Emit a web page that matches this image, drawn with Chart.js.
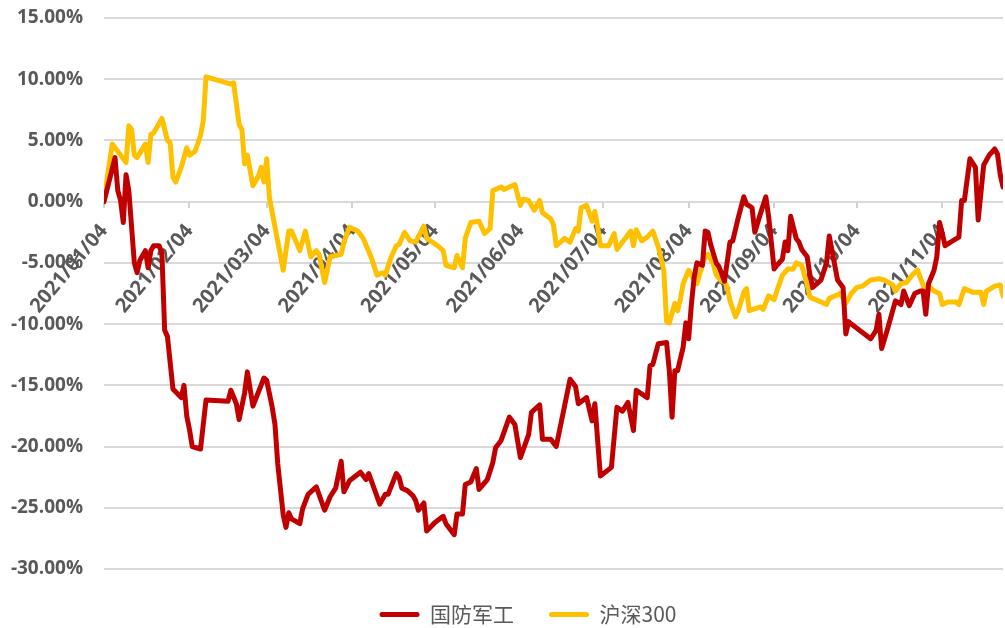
<!DOCTYPE html>
<html>
<head>
<meta charset="utf-8">
<script src="https://cdn.jsdelivr.net/npm/chart.js@4.4.0/dist/chart.umd.min.js"></script>
<style>
html,body{margin:0;padding:0;background:#fff;}
#wrap{position:relative;width:1005px;height:628px;}
</style>
</head>
<body>
<div id="wrap"><canvas id="c"></canvas></div>
<script>
const seriesNames = ['国防军工', '沪深300'];
const tickLabels = ['2021/01/04','2021/02/04','2021/03/04','2021/04/04','2021/05/04','2021/06/04','2021/07/04','2021/08/04','2021/09/04','2021/10/04','2021/11/04'];

// 国防军工
const jgDates = [
'2021-01-04','2021-01-08','2021-01-09','2021-01-10','2021-01-11','2021-01-12','2021-01-13','2021-01-15','2021-01-16','2021-01-17','2021-01-19','2021-01-20','2021-01-21','2021-01-22','2021-01-24','2021-01-25','2021-01-26','2021-01-27','2021-01-29',
'2021-02-01','2021-02-02','2021-02-03','2021-02-04','2021-02-05','2021-02-08','2021-02-10','2021-02-18','2021-02-19','2021-02-21','2021-02-22','2021-02-24','2021-02-25','2021-02-27',
'2021-03-03','2021-03-04','2021-03-06','2021-03-07','2021-03-08','2021-03-10','2021-03-11','2021-03-12','2021-03-13','2021-03-16','2021-03-17','2021-03-19','2021-03-22','2021-03-25','2021-03-27','2021-03-29','2021-03-31',
'2021-04-01','2021-04-03','2021-04-07','2021-04-09','2021-04-10','2021-04-14','2021-04-16','2021-04-17','2021-04-20','2021-04-21','2021-04-22','2021-04-24','2021-04-26','2021-04-27','2021-04-28','2021-04-30',
'2021-05-01','2021-05-04','2021-05-07','2021-05-08','2021-05-11','2021-05-12','2021-05-14','2021-05-15','2021-05-17','2021-05-19','2021-05-20','2021-05-23','2021-05-25','2021-05-26','2021-05-28','2021-05-31',
'2021-06-02','2021-06-04','2021-06-07','2021-06-08','2021-06-11','2021-06-12','2021-06-15','2021-06-17','2021-06-22','2021-06-24','2021-06-25','2021-06-28','2021-06-30',
'2021-07-01','2021-07-03','2021-07-07','2021-07-09','2021-07-11','2021-07-13','2021-07-15','2021-07-16','2021-07-20','2021-07-21','2021-07-22','2021-07-24','2021-07-27','2021-07-28','2021-07-29','2021-07-30','2021-07-31',
'2021-08-02','2021-08-03','2021-08-04','2021-08-05','2021-08-06','2021-08-07','2021-08-09','2021-08-10','2021-08-11','2021-08-12','2021-08-14','2021-08-15','2021-08-17','2021-08-19','2021-08-20','2021-08-22','2021-08-24','2021-08-25','2021-08-27','2021-08-28','2021-08-30',
'2021-09-01','2021-09-02','2021-09-04','2021-09-05','2021-09-07','2021-09-08','2021-09-09','2021-09-10','2021-09-12','2021-09-13','2021-09-14','2021-09-16','2021-09-17','2021-09-18','2021-09-21','2021-09-23','2021-09-24','2021-09-25','2021-09-27','2021-09-29','2021-09-30',
'2021-10-01','2021-10-02','2021-10-09','2021-10-11','2021-10-12','2021-10-13','2021-10-15','2021-10-17','2021-10-18','2021-10-20','2021-10-21','2021-10-23','2021-10-25','2021-10-27','2021-10-28','2021-10-29','2021-10-30',
'2021-11-01','2021-11-02','2021-11-03','2021-11-04','2021-11-05','2021-11-07','2021-11-10','2021-11-11','2021-11-12','2021-11-14','2021-11-16','2021-11-17','2021-11-19','2021-11-21','2021-11-23','2021-11-24','2021-11-25','2021-11-26'
];
const jgValues = [
0,3.6,0.9,0.1,-1.7,2.2,0.9,-5.0,-5.8,-4.8,-4.0,-5.4,-4.0,-3.6,-3.6,-4.2,-10.5,-11.0,-15.3,
-16.0,-15.0,-17.5,-18.6,-20.0,-20.2,-16.2,-16.3,-15.4,-16.5,-17.8,-15.6,-13.9,-16.7,
-14.4,-14.6,-16.8,-18.2,-21.4,-25.6,-26.6,-25.4,-25.9,-26.3,-25.1,-23.9,-23.3,-25.2,-24.1,-23.4,-21.2,
-23.7,-22.8,-22.1,-22.7,-22.2,-24.7,-23.9,-23.9,-22.2,-22.5,-23.4,-23.6,-24.0,-24.4,-25.2,-24.6,
-26.9,-26.2,-25.7,-26.3,-27.2,-25.5,-25.5,-23.1,-22.9,-21.8,-23.5,-22.7,-21.3,-20.1,-19.5,-17.6,
-18.2,-20.9,-19.0,-17.2,-16.6,-19.4,-19.4,-20.0,-14.5,-15.1,-16.5,-16.0,-17.9,
-16.5,-22.4,-21.7,-16.8,-17.1,-16.4,-18.7,-15.4,-16.0,-13.4,-13.3,-11.6,-11.5,-13.8,-17.6,-13.8,-13.8,
-11.9,-9.9,-11.2,-8.4,-6.2,-5.0,-5.2,-2.4,-2.5,-3.5,-5.0,-5.3,-6.5,-3.3,-3.2,-1.3,0.4,-0.2,-0.5,-2.5,-1.0,
0.4,-1.2,-5.5,-5.2,-4.7,-3.3,-4.0,-1.2,-3.0,-3.3,-3.9,-4.5,-6.0,-7.0,-6.4,-5.0,-2.8,-4.0,-6.4,-7.0,-10.8,
-9.8,-10.0,-11.2,-10.5,-9.2,-12.0,-10.5,-8.9,-8.1,-8.4,-7.3,-8.5,-7.5,-7.3,-7.3,-9.2,-6.7,
-5.6,-4.5,-1.7,-2.6,-3.6,-3.3,-2.9,0.1,0.1,3.5,2.8,-1.5,3.0,3.8,4.3,3.9,2.2,1.2
];

// 沪深300
const hsDates = [
'2021-01-04','2021-01-05','2021-01-07','2021-01-12','2021-01-13','2021-01-14','2021-01-15','2021-01-16','2021-01-19','2021-01-20','2021-01-21','2021-01-22','2021-01-25','2021-01-27','2021-01-28','2021-01-29','2021-01-30',
'2021-02-01','2021-02-03','2021-02-04','2021-02-06','2021-02-08','2021-02-09','2021-02-10','2021-02-19','2021-02-20','2021-02-22','2021-02-23','2021-02-24','2021-02-25','2021-02-27',
'2021-03-01','2021-03-02','2021-03-03','2021-03-04','2021-03-05','2021-03-10','2021-03-12','2021-03-13','2021-03-16','2021-03-18','2021-03-20','2021-03-22','2021-03-23','2021-03-25','2021-03-27','2021-03-29','2021-03-31',
'2021-04-01','2021-04-03','2021-04-06','2021-04-08','2021-04-11','2021-04-13','2021-04-15','2021-04-16','2021-04-18','2021-04-20','2021-04-21','2021-04-23','2021-04-25','2021-04-27','2021-04-30',
'2021-05-01','2021-05-05','2021-05-07','2021-05-08','2021-05-11','2021-05-12','2021-05-14','2021-05-15','2021-05-17','2021-05-20','2021-05-22','2021-05-24','2021-05-25','2021-05-28','2021-05-29','2021-05-31',
'2021-06-02','2021-06-04','2021-06-05','2021-06-07','2021-06-09','2021-06-11','2021-06-12','2021-06-15','2021-06-16','2021-06-17','2021-06-20','2021-06-22','2021-06-24','2021-06-25','2021-06-26','2021-06-28','2021-06-30',
'2021-07-01','2021-07-02','2021-07-03','2021-07-06','2021-07-08','2021-07-09','2021-07-12','2021-07-14','2021-07-15','2021-07-16','2021-07-18','2021-07-20','2021-07-22','2021-07-24','2021-07-26','2021-07-27','2021-07-28','2021-07-30','2021-07-31',
'2021-08-01','2021-08-02','2021-08-04','2021-08-06','2021-08-07','2021-08-08','2021-08-10','2021-08-11','2021-08-13','2021-08-14','2021-08-16','2021-08-17','2021-08-18','2021-08-19','2021-08-21','2021-08-22','2021-08-24','2021-08-25','2021-08-26','2021-08-30','2021-08-31',
'2021-09-02','2021-09-04','2021-09-05','2021-09-07','2021-09-09','2021-09-11','2021-09-12','2021-09-14','2021-09-16','2021-09-17','2021-09-18','2021-09-21','2021-09-23','2021-09-24','2021-09-27','2021-09-28','2021-09-30',
'2021-10-02','2021-10-04','2021-10-06','2021-10-09','2021-10-12','2021-10-14','2021-10-17','2021-10-18','2021-10-20','2021-10-22','2021-10-24','2021-10-26','2021-10-28','2021-10-29','2021-10-30',
'2021-11-01','2021-11-03','2021-11-04','2021-11-06','2021-11-09','2021-11-10','2021-11-12','2021-11-15','2021-11-18','2021-11-19','2021-11-20','2021-11-23','2021-11-25','2021-11-26'
];
const hsValues = [
0.0,1.7,4.7,3.2,6.2,5.9,3.8,3.6,4.7,3.2,5.5,5.6,6.8,5.0,4.8,2.0,1.6,
2.8,4.4,3.8,4.1,5.4,6.6,10.2,9.6,9.7,6.3,5.9,3.1,3.8,1.3,
2.1,2.8,1.6,3.5,0.3,-5.6,-2.4,-2.4,-4.0,-2.4,-4.5,-4.0,-4.3,-6.6,-4.5,-4.4,-4.3,
-3.3,-2.1,-2.4,-3.0,-4.6,-6.0,-5.8,-6.0,-4.6,-3.6,-3.5,-2.5,-3.2,-3.3,-2.0,
-3.0,-3.6,-4.0,-5.2,-5.4,-4.4,-5.4,-3.0,-1.7,-1.6,-2.6,-2.2,0.9,1.2,1.0,1.2,
1.4,-0.3,0.2,0.1,-0.7,0.1,-0.9,-1.4,-1.9,-3.6,-3.0,-3.3,-2.2,-2.4,-0.5,-0.3,-1.6,
-0.8,-2.0,-3.6,-3.6,-2.6,-3.9,-3.0,-2.4,-3.6,-2.3,-3.2,-2.9,-2.4,-3.7,-5.6,-9.8,-9.9,-8.3,-8.9,
-8.0,-6.7,-5.6,-6.4,-6.7,-5.9,-4.5,-4.3,-5.1,-6.0,-6.5,-6.5,-7.0,-8.1,-9.4,-8.9,-7.4,-7.1,-8.9,-8.6,-8.8,
-7.7,-8.0,-7.3,-6.0,-5.5,-5.5,-5.0,-5.2,-6.8,-7.8,-7.9,-8.2,-8.4,-7.9,-7.6,-7.5,-8.3,
-7.5,-7.0,-6.9,-6.4,-6.3,-6.4,-6.8,-7.3,-6.7,-6.6,-6.0,-5.6,-6.8,-7.5,-6.9,
-7.3,-7.5,-8.4,-8.2,-8.2,-8.4,-7.1,-7.4,-7.4,-8.4,-7.3,-6.9,-6.8,-7.7
];

const DAY = 86400000;
const t0 = Date.parse(jgDates[0]);
const dayOf = s => Math.round((Date.parse(s.replace(/\//g, '-')) - t0) / DAY);
const toPoints = (ds, vs) => ds.map((d, i) => ({ x: dayOf(d), y: vs[i] }));
const lastDay = Math.max(dayOf(jgDates[jgDates.length - 1]), dayOf(hsDates[hsDates.length - 1]));
const tickDays = tickLabels.map(dayOf);

const labelFont = { family: "'Open Sans', 'Liberation Sans', sans-serif", size: 19, weight: 'bold' };

// shift the centred legend to the right, as in the original
const legendShift = {
  id: 'legendShift',
  afterLayout(chart) { if (chart.legend) chart.legend.left += 53; }
};

new Chart(document.getElementById('c'), {
  type: 'line',
  data: {
    datasets: [
      { label: seriesNames[0], data: toPoints(jgDates, jgValues), borderColor: '#C00000', backgroundColor: '#C00000',
        borderWidth: 5, pointRadius: 0, tension: 0, borderJoinStyle: 'round', borderCapStyle: 'round' },
      { label: seriesNames[1], data: toPoints(hsDates, hsValues), borderColor: '#FFC000', backgroundColor: '#FFC000',
        borderWidth: 5, pointRadius: 0, tension: 0, borderJoinStyle: 'round', borderCapStyle: 'round' }
    ]
  },
  plugins: [legendShift],
  options: {
    animation: false,
    responsive: true,
    maintainAspectRatio: false,
    devicePixelRatio: 1,
    layout: { padding: { top: 18, right: 2, bottom: -7, left: 0 } },
    plugins: {
      tooltip: { enabled: false },
      legend: {
        position: 'bottom',
        labels: {
          boxWidth: 40, boxHeight: 5, padding: 35, color: '#595959',
          useBorderRadius: true, borderRadius: 2.5,
          font: { family: "'Noto Sans CJK SC', sans-serif", size: 21 },
          generateLabels: chart => Chart.defaults.plugins.legend.labels.generateLabels(chart)
            .map(it => Object.assign({}, it, { fillStyle: it.strokeStyle, lineWidth: 0 }))
        }
      }
    },
    scales: {
      x: {
        type: 'linear',
        position: { y: 0 },
        min: 0,
        max: lastDay,
        afterBuildTicks: s => { s.ticks = tickDays.map(v => ({ value: v })); },
        afterFit: s => { s.height = 0; },
        ticks: {
          autoSkip: false, minRotation: 50, maxRotation: 50, padding: 12,
          color: '#595959', font: Object.assign({}, labelFont, { size: 20 }),
          callback: (v, i) => tickLabels[i]
        },
        grid: { drawOnChartArea: false, drawTicks: true, tickLength: 6, color: '#d0d0d0', lineWidth: 2 },
        border: { display: false }
      },
      y: {
        min: -30, max: 15,
        afterFit: s => { s.width = 104; },
        ticks: { stepSize: 5, padding: 0, color: '#595959', font: labelFont,
          callback: v => v.toFixed(2) + '%' },
        grid: { color: '#d9d9d9', lineWidth: 2, drawTicks: true, tickLength: 21, tickColor: 'rgba(0,0,0,0)' },
        border: { display: false }
      }
    }
  }
});
</script>
</body>
</html>
